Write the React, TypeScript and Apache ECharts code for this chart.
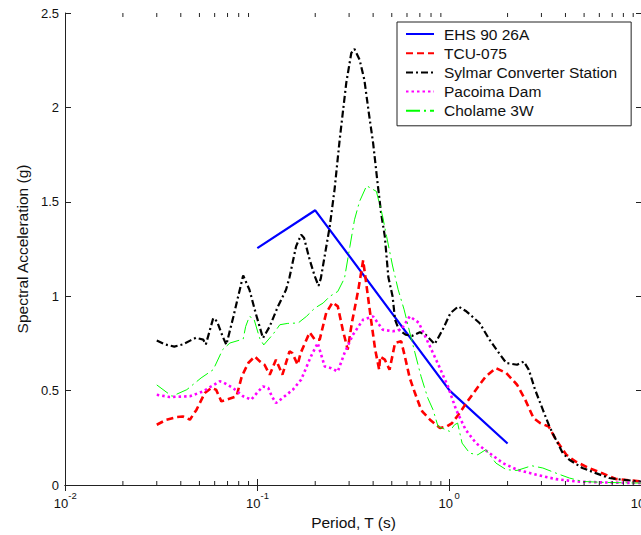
import React, { useEffect, useRef } from "react";
import * as echarts from "echarts";

// ---- data: [period T (s), spectral acceleration (g)] ----
const ehs9026A: [number, number][] = [
  [0.1, 1.255], [0.2, 1.455], [1.0, 0.5], [2.0, 0.22],
];

const tcu075: [number, number][] = [
  [0.03, 0.319], [0.0337, 0.346], [0.038, 0.36], [0.041, 0.363], [0.0446, 0.346],
  [0.0483, 0.399], [0.0533, 0.487], [0.0577, 0.514], [0.061, 0.505], [0.065, 0.443],
  [0.069, 0.452], [0.078, 0.47], [0.083, 0.575], [0.0897, 0.646], [0.097, 0.681],
  [0.103, 0.655], [0.109, 0.637], [0.116, 0.584], [0.125, 0.664], [0.135, 0.584],
  [0.147, 0.708], [0.152, 0.699], [0.162, 0.637], [0.168, 0.699], [0.187, 0.808],
  [0.199, 0.77], [0.211, 0.77], [0.228, 0.911], [0.246, 0.967], [0.262, 0.946],
  [0.278, 0.823], [0.295, 0.717], [0.31, 0.858], [0.335, 1.034], [0.355, 1.19],
  [0.37, 1.052], [0.39, 0.876], [0.41, 0.717], [0.43, 0.611], [0.435, 0.68],
  [0.46, 0.664], [0.487, 0.611], [0.52, 0.752], [0.56, 0.761], [0.585, 0.68],
  [0.62, 0.567], [0.66, 0.487], [0.7, 0.417], [0.72, 0.39], [0.79, 0.346],
  [0.89, 0.302], [0.97, 0.311], [1.03, 0.328], [1.11, 0.372], [1.22, 0.434],
  [1.37, 0.505], [1.54, 0.575], [1.74, 0.619], [1.97, 0.593], [2.24, 0.531],
  [2.47, 0.452], [2.73, 0.354], [2.95, 0.328], [3.27, 0.31], [3.57, 0.24],
  [4.04, 0.16], [4.5, 0.125], [5.3, 0.09], [6.2, 0.063], [7.3, 0.032],
  [8.6, 0.025], [10, 0.018],
];

const sylmar: [number, number][] = [
  [0.03, 0.765], [0.033, 0.745], [0.037, 0.733], [0.041, 0.745], [0.045, 0.766],
  [0.048, 0.78], [0.0523, 0.77], [0.054, 0.745], [0.059, 0.884], [0.0617, 0.867],
  [0.066, 0.787], [0.069, 0.743], [0.075, 0.89], [0.0844, 1.11], [0.091, 1.034],
  [0.098, 0.911], [0.107, 0.778], [0.116, 0.84], [0.128, 0.946], [0.141, 1.034],
  [0.147, 1.1], [0.159, 1.264], [0.169, 1.326], [0.175, 1.308], [0.187, 1.194],
  [0.199, 1.105], [0.208, 1.055], [0.214, 1.096], [0.238, 1.37], [0.252, 1.564],
  [0.268, 1.829], [0.29, 2.13], [0.308, 2.288], [0.32, 2.309], [0.34, 2.253],
  [0.36, 2.147], [0.38, 1.97], [0.4, 1.811], [0.42, 1.617], [0.44, 1.44],
  [0.46, 1.317], [0.48, 1.1], [0.505, 0.999], [0.52, 0.876], [0.544, 0.823],
  [0.59, 0.796], [0.64, 0.79], [0.7, 0.809], [0.75, 0.796], [0.836, 0.746],
  [0.92, 0.823], [1.01, 0.911], [1.11, 0.946], [1.22, 0.92], [1.43, 0.858],
  [1.61, 0.77], [1.83, 0.69], [1.97, 0.646], [2.24, 0.637], [2.43, 0.654],
  [2.58, 0.61], [2.78, 0.505], [3.05, 0.399], [3.3, 0.31], [3.57, 0.24],
  [3.87, 0.169], [4.19, 0.134], [4.9, 0.09], [5.75, 0.063], [6.75, 0.037],
  [7.9, 0.028], [10, 0.018],
];

const pacoima: [number, number][] = [
  [0.03, 0.478], [0.035, 0.466], [0.0446, 0.47], [0.0523, 0.496], [0.0577, 0.523],
  [0.0637, 0.549], [0.0667, 0.543], [0.075, 0.513], [0.0844, 0.47], [0.093, 0.452],
  [0.1, 0.49], [0.107, 0.522], [0.114, 0.514], [0.119, 0.469], [0.125, 0.434],
  [0.135, 0.46], [0.153, 0.505], [0.169, 0.558], [0.19, 0.681], [0.206, 0.752],
  [0.224, 0.628], [0.242, 0.619], [0.262, 0.601], [0.284, 0.699], [0.314, 0.796],
  [0.355, 0.876], [0.4, 0.893], [0.448, 0.823], [0.505, 0.814], [0.56, 0.823],
  [0.62, 0.893], [0.69, 0.86], [0.79, 0.734], [0.89, 0.619], [0.98, 0.522],
  [1.08, 0.399], [1.21, 0.293], [1.37, 0.222], [1.61, 0.169], [1.89, 0.116],
  [2.24, 0.081], [2.81, 0.055], [3.57, 0.031], [4.5, 0.019], [6, 0.014], [10, 0.01],
];

const cholame3W: [number, number][] = [
  [0.03, 0.53], [0.036, 0.47], [0.043, 0.505], [0.051, 0.567], [0.059, 0.611],
  [0.066, 0.717], [0.072, 0.752], [0.0844, 0.773], [0.087, 0.84], [0.091, 0.893],
  [0.096, 0.88], [0.103, 0.775], [0.108, 0.742], [0.121, 0.8], [0.131, 0.849],
  [0.144, 0.856], [0.163, 0.858], [0.18, 0.893], [0.199, 0.937], [0.22, 0.964],
  [0.238, 0.999], [0.262, 1.025], [0.284, 1.096], [0.303, 1.264], [0.32, 1.405],
  [0.34, 1.502], [0.37, 1.585], [0.416, 1.555], [0.448, 1.423], [0.47, 1.317],
  [0.505, 1.16], [0.54, 1.034], [0.58, 0.928], [0.63, 0.78], [0.66, 0.7],
  [0.71, 0.575], [0.77, 0.46], [0.82, 0.398], [0.87, 0.31], [0.92, 0.3],
  [1.0, 0.284], [1.06, 0.319], [1.1, 0.328], [1.16, 0.222], [1.27, 0.169],
  [1.4, 0.16], [1.54, 0.187], [1.74, 0.116], [1.97, 0.081], [2.24, 0.077],
  [2.67, 0.102], [3.05, 0.09], [3.57, 0.063], [4.19, 0.037], [4.9, 0.019],
  [6.2, 0.014], [10, 0.01],
];

const seriesNames = ["EHS 90 26A", "TCU-075", "Sylmar Converter Station", "Pacoima Dam", "Cholame 3W"];
const minorTickValues = [
  0.02, 0.03, 0.04, 0.05, 0.06, 0.07, 0.08, 0.09,
  0.2, 0.3, 0.4, 0.5, 0.6, 0.7, 0.8, 0.9,
  2, 3, 4, 5, 6, 7, 8, 9,
];

const FONT = "'Liberation Sans', Arial, Helvetica, sans-serif";
const AX = "#222";

export default function App() {
  const ref = useRef<HTMLDivElement>(null);
  useEffect(() => {
    if (!ref.current) return;
    const chart = echarts.init(ref.current, null, { renderer: "svg" });
    const lineSeries = (name: string, data: [number, number][], color: string, width: number, type: any) => ({
      name,
      type: "line",
      data,
      symbol: "none",
      showSymbol: false,
      clip: true,
      lineStyle: { color, width, type },
      itemStyle: { color },
    });
    const option: any = {
      animation: false,
      backgroundColor: "#fff",
      textStyle: { fontFamily: FONT },
      grid: {
        left: 65, top: 13, width: 577, height: 472,
        containLabel: false,
        outerBoundsMode: "none",
      },
      legend: {
        data: seriesNames,
        orient: "vertical",
        left: 397,
        top: 22,
        itemWidth: 28,
        itemHeight: 14,
        itemGap: 3.2,
        padding: [4, 14, 7, 8],
        borderColor: "#222",
        borderWidth: 1,
        backgroundColor: "#fff",
        itemStyle: { opacity: 0, borderWidth: 0 },
        textStyle: { fontSize: 15.5, fontFamily: FONT, color: "#111", lineHeight: 16, padding: [0, 0, 0, 5] },
        selectedMode: false,
      },
      xAxis: [
        {
          type: "log", logBase: 10, min: 0.01, max: 10, position: "bottom",
          name: "Period, T (s)", nameLocation: "middle", nameGap: 26,
          nameTextStyle: { fontSize: 15.5, color: "#111", fontFamily: FONT },
          axisLine: { show: true, lineStyle: { color: AX, width: 1 } },
          axisTick: { show: true, inside: true, length: 6, lineStyle: { color: AX } },
          splitLine: { show: false },
          axisLabel: {
            margin: 8,
            formatter: (v: number) => `{s|${Math.round(Math.log10(v))}}\n{b|10}`,
            rich: {
              s: { fontSize: 9.5, fontFamily: FONT, color: "#111", lineHeight: 4, padding: [0, 0, 0, 15] },
              b: { fontSize: 13, fontFamily: FONT, color: "#111", lineHeight: 12, padding: [0, 8, 0, 0] },
            },
          },
        },
        {
          type: "log", logBase: 10, min: 0.01, max: 10, position: "top",
          axisLine: { show: true, lineStyle: { color: AX, width: 1 } },
          axisTick: { show: true, inside: true, length: 6, lineStyle: { color: AX } },
          axisLabel: { show: false },
          splitLine: { show: false },
        },
      ],
      yAxis: [
        {
          type: "value", min: 0, max: 2.5, interval: 0.5, position: "left",
          name: "Spectral Acceleration (g)", nameLocation: "middle", nameGap: 35,
          nameTextStyle: { fontSize: 15.5, color: "#111", fontFamily: FONT },
          axisLine: { show: true, lineStyle: { color: AX, width: 1 } },
          axisTick: { show: true, inside: true, length: 6, lineStyle: { color: AX } },
          axisLabel: { margin: 6, fontSize: 13, color: "#111", fontFamily: FONT },
          splitLine: { show: false },
        },
        {
          type: "value", min: 0, max: 2.5, interval: 0.5, position: "right",
          axisLine: { show: true, lineStyle: { color: AX, width: 1 } },
          axisTick: { show: true, inside: true, length: 6, lineStyle: { color: AX } },
          axisLabel: { show: false },
          splitLine: { show: false },
        },
      ],
      series: [
        lineSeries(seriesNames[0], ehs9026A, "#0000ff", 2.2, "solid"),
        lineSeries(seriesNames[1], tcu075, "#ff0000", 2.6, [7, 4]),
        lineSeries(seriesNames[2], sylmar, "#000000", 2.2, [7, 3, 2, 3]),
        lineSeries(seriesNames[3], pacoima, "#ff00ff", 2.6, [2.5, 3]),
        lineSeries(seriesNames[4], cholame3W, "#00ff00", 1, [14, 4, 2, 4]),
        {
          type: "custom",
          name: "minorTicks",
          silent: true,
          clip: false,
          z: 5,
          data: minorTickValues.map((v) => [v, 0]),
          encode: { x: 0, y: 1 },
          renderItem: (params: any, api: any) => {
            const x = api.coord([api.value(0), 0])[0];
            const cs = params.coordSys;
            const top = cs.y;
            const bottom = cs.y + cs.height;
            return {
              type: "group",
              children: [
                { type: "line", shape: { x1: x, y1: bottom, x2: x, y2: bottom - 4 }, style: { stroke: AX, lineWidth: 1 } },
                { type: "line", shape: { x1: x, y1: top, x2: x, y2: top + 4 }, style: { stroke: AX, lineWidth: 1 } },
              ],
            };
          },
        },
      ],
    };
    chart.setOption(option);
    return () => chart.dispose();
  }, []);
  return <div ref={ref} style={{ position: "fixed", left: 0, top: 0, width: 641, height: 535 }} />;
}
